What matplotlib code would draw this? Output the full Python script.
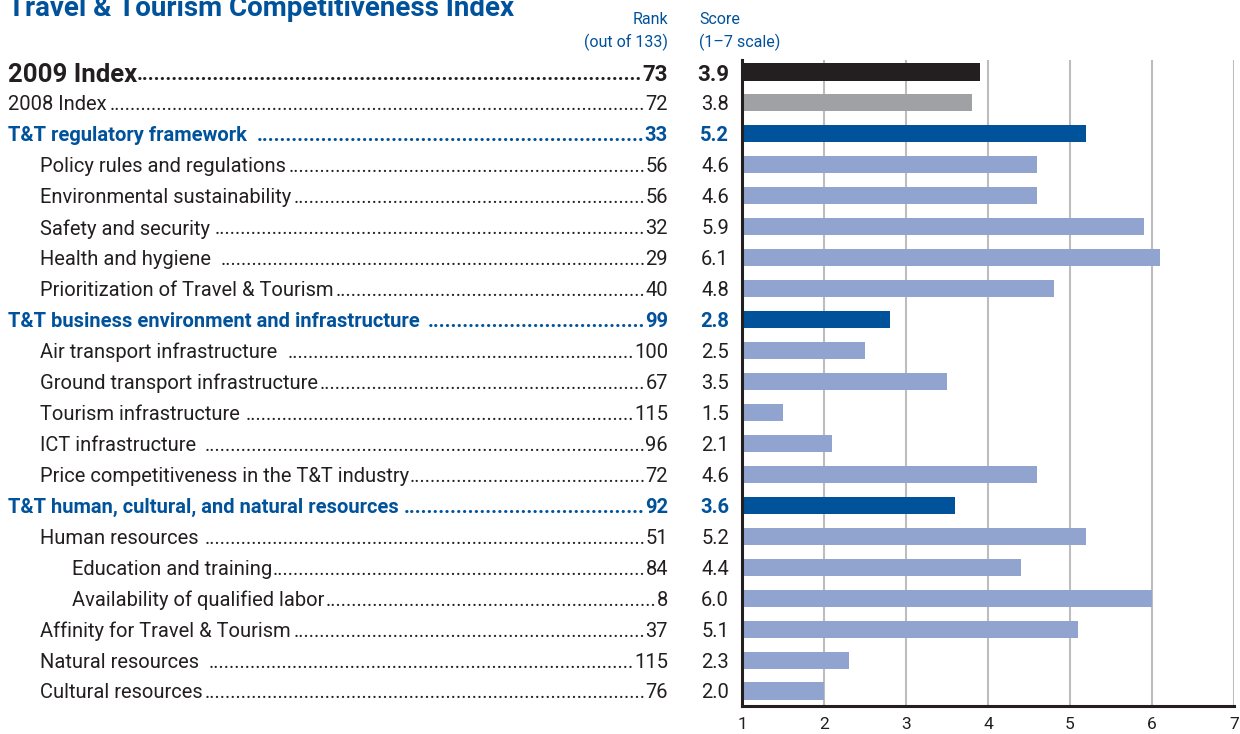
import matplotlib
matplotlib.use("Agg")
import matplotlib.pyplot as plt
from matplotlib.transforms import blended_transform_factory

plt.rcParams['font.family'] = ['Roboto', 'DejaVu Sans']

labels = ["2009 Index", "2008 Index", "T&T regulatory framework ",
          "Policy rules and regulations", "Environmental sustainability",
          "Safety and security ", "Health and hygiene ",
          "Prioritization of Travel & Tourism",
          "T&T business environment and infrastructure ",
          "Air transport infrastructure  ", "Ground transport infrastructure",
          "Tourism infrastructure ", "ICT infrastructure ",
          "Price competitiveness in the T&T industry",
          "T&T human, cultural, and natural resources ",
          "Human resources ", "Education and training",
          "Availability of qualified labor", "Affinity for Travel & Tourism",
          "Natural resources ", "Cultural resources"]
levels = [0, 0, 0, 1, 1, 1, 1, 1, 0, 1, 1, 1, 1, 1, 0, 1, 2, 2, 1, 1, 1]
kinds = ["overall", "prev", "pillar", "sub", "sub", "sub", "sub", "sub",
         "pillar", "sub", "sub", "sub", "sub", "sub", "pillar", "sub",
         "sub", "sub", "sub", "sub", "sub"]
ranks = [73, 72, 33, 56, 56, 32, 29, 40, 99, 100, 67, 115, 96, 72, 92,
         51, 84, 8, 37, 115, 76]
scores = [3.9, 3.8, 5.2, 4.6, 4.6, 5.9, 6.1, 4.8, 2.8, 2.5, 3.5, 1.5, 2.1,
          4.6, 3.6, 5.2, 4.4, 6.0, 5.1, 2.3, 2.0]

BLUE = "#00529B"
bar_colors = {"overall": "#231F20", "prev": "#A0A1A5",
              "pillar": BLUE, "sub": "#91A4D0"}
text_colors = {"overall": "#231F20", "prev": "#231F20",
               "pillar": BLUE, "sub": "#231F20"}

W, H = 1240, 734
fig = plt.figure(figsize=(W / 100, H / 100), dpi=100)
ax = fig.add_axes([742 / W, 1 - 706 / H, 492 / W, 646 / H])

n = len(labels)
ypos = list(range(n))
ax.barh(ypos, [s - 1 for s in scores], left=1, height=0.55,
        color=[bar_colors[k] for k in kinds], zorder=3)
ax.set_xlim(1, 7)
ax.set_ylim(n - 1 + 0.485, -0.388)
ax.set_yticks([])
ax.set_xticks(range(1, 8))
ax.tick_params(axis="x", length=0, labelsize=12.5, pad=8, colors="#231F20")
ax.xaxis.grid(True, color="#BDBDBD", linewidth=1.5, zorder=0)
for s in ["top", "right"]:
    ax.spines[s].set_visible(False)
for s in ["left", "bottom"]:
    ax.spines[s].set_linewidth(2.2)
    ax.spines[s].set_color("#231F20")
    ax.spines[s].set_zorder(4)
for lab in ax.get_xticklabels():
    lab.set_clip_on(False)

tr = blended_transform_factory(fig.transFigure, ax.transData)
renderer = fig.canvas.get_renderer()

rank_x = 668
score_x = 729
indent = {0: 8, 1: 40, 2: 72}
base = 14.5
va = "center_baseline"

for i in range(n):
    k = kinds[i]
    col = text_colors[k]
    bold = k in ("overall", "pillar")
    weight = "bold" if bold else "normal"
    size = 18.5 if k == "overall" else base
    num_size = 16 if k == "overall" else base
    lab = fig.text(indent[levels[i]] / W, i, labels[i], transform=tr,
                   ha="left", va=va, fontsize=size, fontweight=weight,
                   color=col)
    rk = fig.text(rank_x / W, i, str(ranks[i]), transform=tr, ha="right",
                  va=va, fontsize=num_size, fontweight=weight, color=col)
    fig.text(score_x / W, i, f"{scores[i]:.1f}", transform=tr, ha="right",
             va=va, fontsize=num_size, fontweight=weight, color=col)

    # dotted leader between label and rank
    lab_right = lab.get_window_extent(renderer).x1
    rk_left = rk.get_window_extent(renderer).x0
    probe = fig.text(0, 0, "." * 20, fontsize=base, fontweight=weight)
    dot_w = probe.get_window_extent(renderer).width / 20
    probe.remove()
    count = int((rk_left - lab_right) / dot_w)
    if count > 0:
        fig.text(rk_left / W, i, "." * count, transform=tr, ha="right",
                 va=va, fontsize=base, fontweight=weight, color=col)

fig.text(8 / W, 1 - 8 / H, "Travel & Tourism Competitiveness Index",
         ha="left", va="center", fontsize=20, fontweight="bold", color=BLUE)
fig.text(668 / W, 1 - 20 / H, "Rank", ha="right", va="center",
         fontsize=11.5, color=BLUE)
fig.text(668 / W, 1 - 42 / H, "(out of 133)", ha="right", va="center",
         fontsize=11.5, color=BLUE)
fig.text(699 / W, 1 - 20 / H, "Score", ha="left", va="center",
         fontsize=11.5, color=BLUE)
fig.text(699 / W, 1 - 42 / H, "(1\u20137 scale)", ha="left", va="center",
         fontsize=11.5, color=BLUE)

fig.savefig("out.png", dpi=100)
